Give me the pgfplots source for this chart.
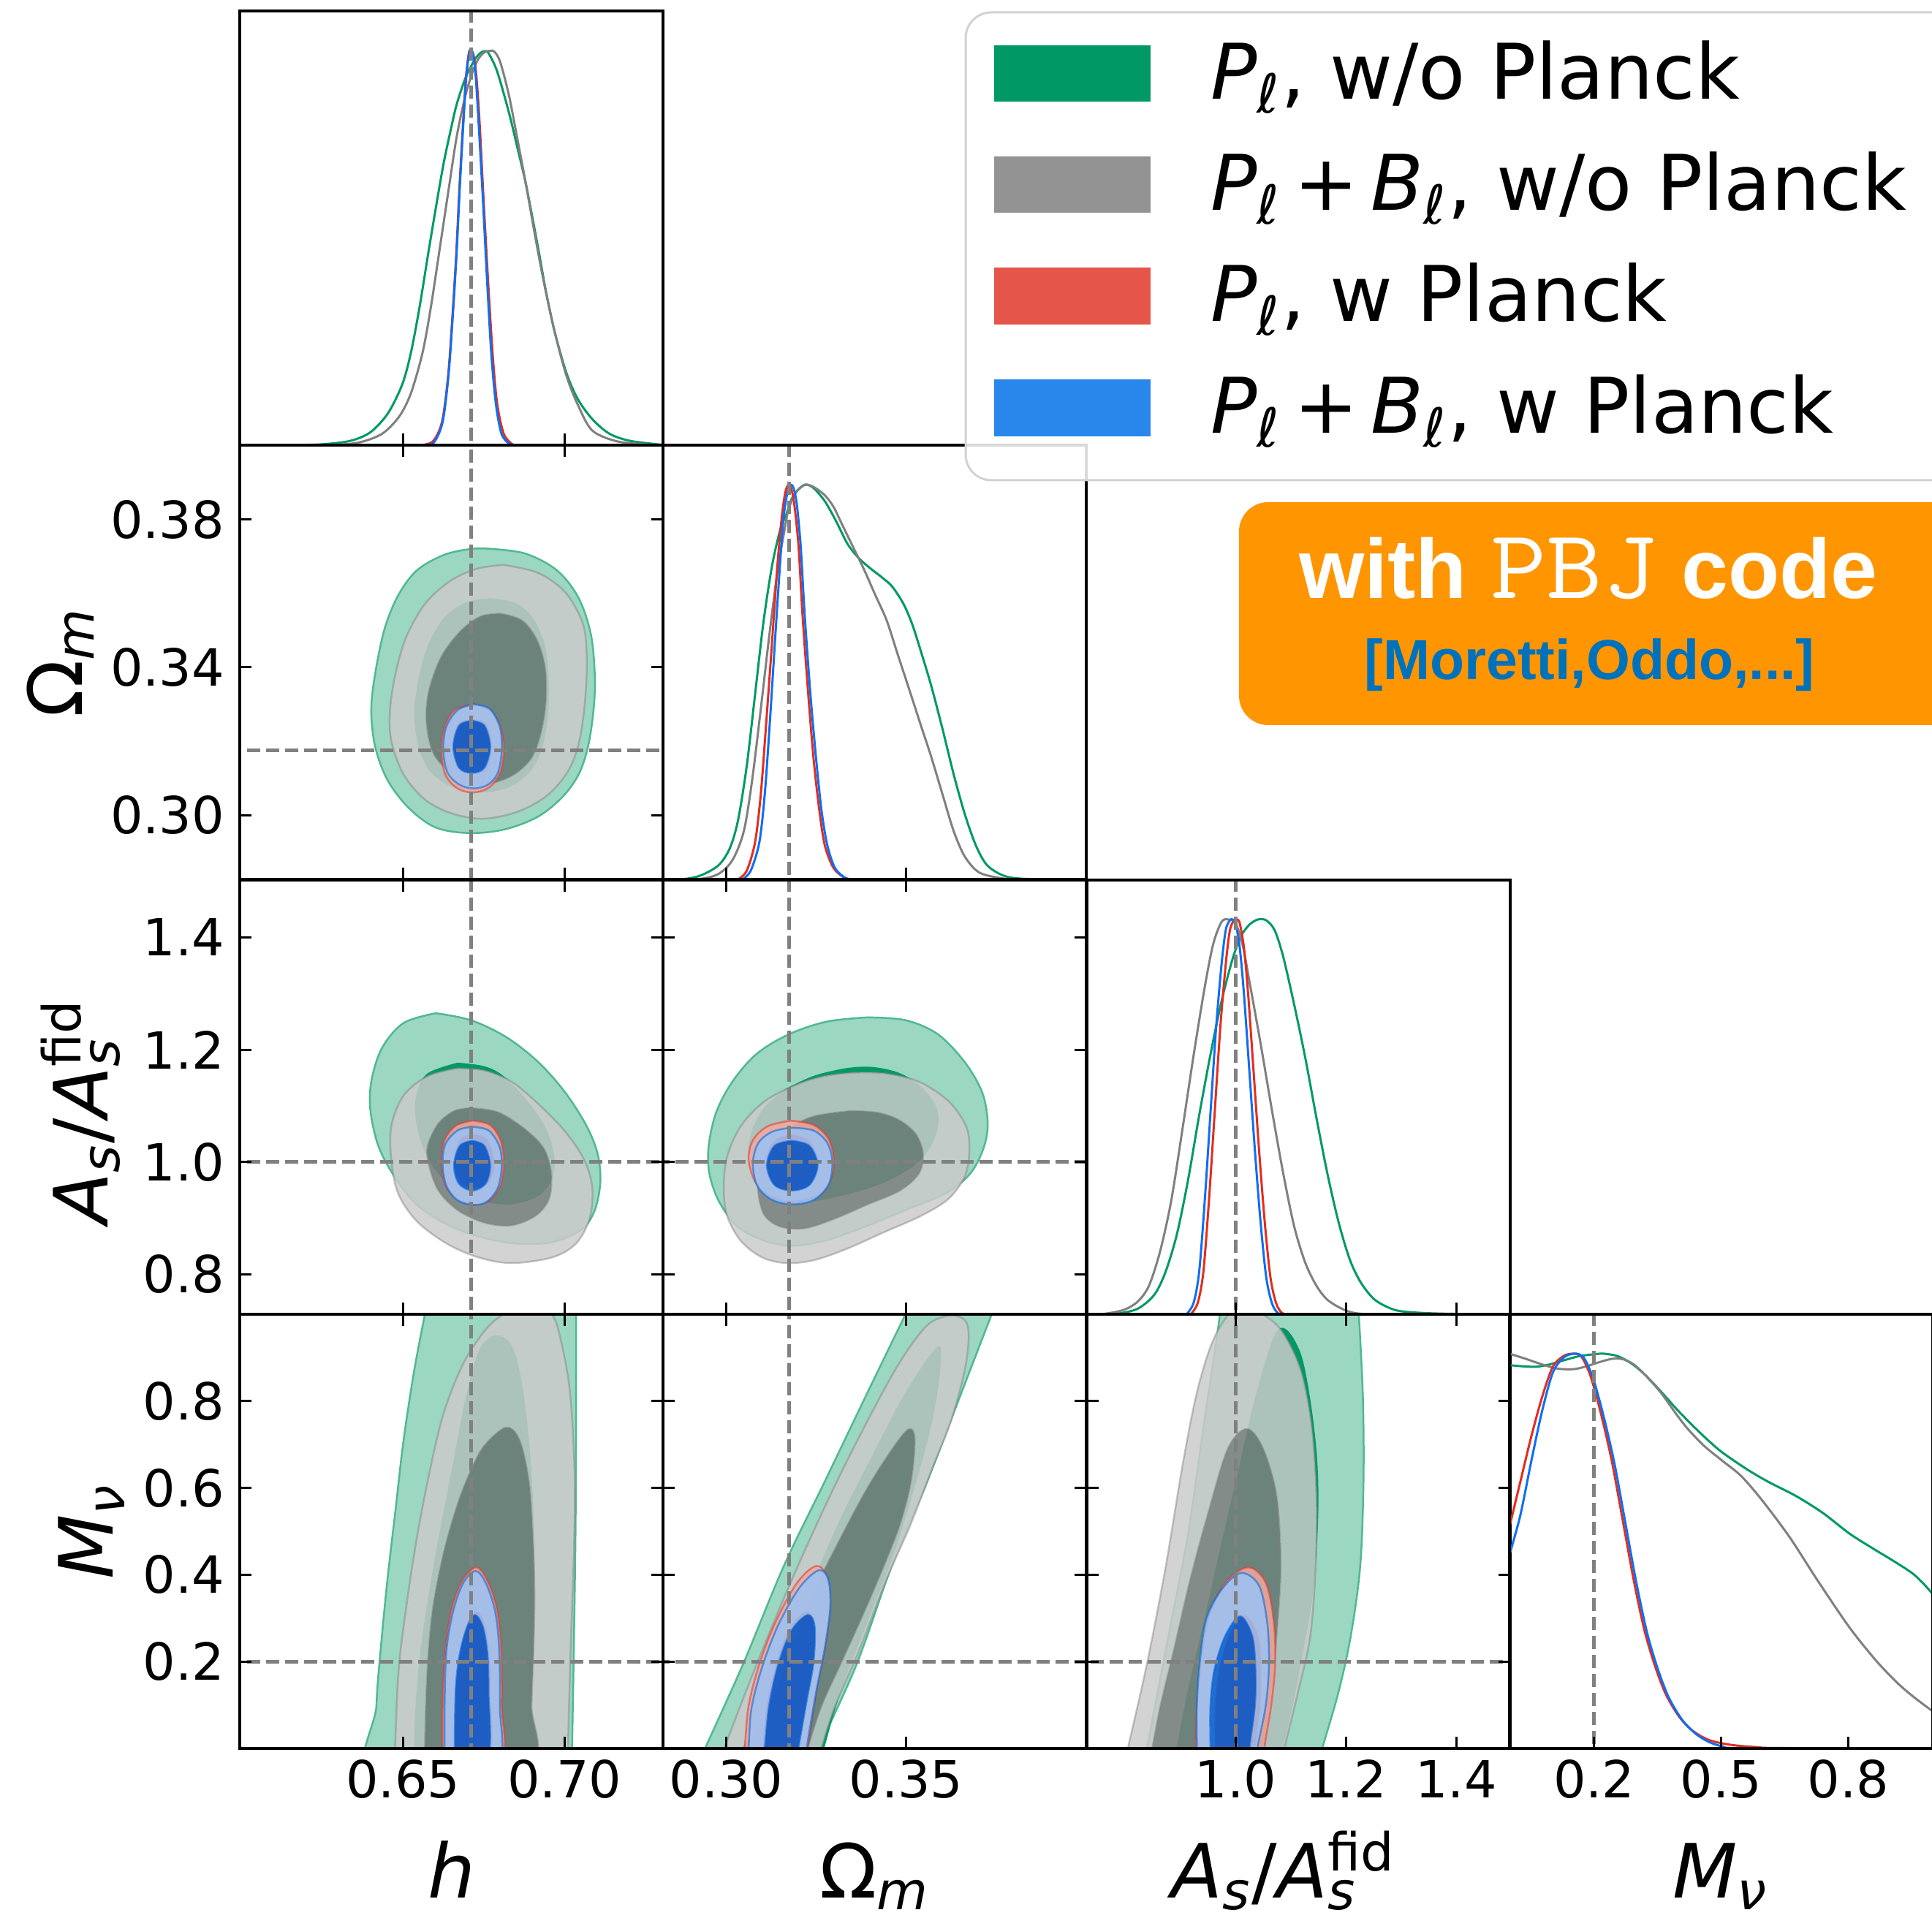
\documentclass[border=0pt]{standalone}
\usepackage{amsmath}
\usepackage{fontspec}
\setmainfont{DejaVu Sans}
\newfontfamily\lib{Liberation Sans}
\usepackage{pgfplots}
\pgfplotsset{compat=1.18}

\definecolor{gD}{RGB}{0,153,102}
\definecolor{gL}{RGB}{155,215,193}
\definecolor{gE}{RGB}{80,185,145}
\definecolor{kD}{RGB}{128,128,128}
\definecolor{kL}{RGB}{203,203,203}
\definecolor{rD}{RGB}{225,55,42}
\definecolor{rL}{RGB}{242,168,158}
\definecolor{bD}{RGB}{0,100,220}
\definecolor{bL}{RGB}{155,195,246}
\definecolor{rLine}{RGB}{228,45,30}
\definecolor{bLine}{RGB}{15,110,245}
\definecolor{fidc}{RGB}{128,128,128}
\definecolor{orng}{RGB}{255,149,0}
\definecolor{refblue}{RGB}{0,114,188}
\definecolor{legK}{RGB}{147,147,147}
\definecolor{legR}{RGB}{229,85,74}
\definecolor{legB}{RGB}{41,135,235}
\definecolor{legE}{RGB}{210,210,210}

\pgfplotsset{
  tri/.style={scale only axis, width=115.8pt, height=118.8pt, anchor=south west,
    axis on top, axis line style={line width=0.8pt}, unbounded coords=jump,
    every tick/.style={black, line width=0.6pt}, major tick length=3.2pt, tick align=inside,
    ticklabel style={font=\fontsize{14}{16}\selectfont},
    xticklabel style={inner sep=0pt, yshift=-3pt},
    yticklabel style={inner sep=0pt, xshift=-4pt},
    xticklabels={}, yticklabels={}},
  diag/.style={tri, ymin=0, ymax=1.1, ytick=\empty, xtick pos=left},
  g2/.style={smooth, tension=0.55, fill=gL, draw=gE, line width=0.5pt},
  g1/.style={smooth, tension=0.55, fill=gD, draw=none},
  k2/.style={smooth, tension=0.55, even odd rule, fill=kL, fill opacity=0.85, draw=kD, draw opacity=0.45, line width=0.5pt},
  k1/.style={smooth, tension=0.55, fill=kD, fill opacity=0.85, draw=none},
  r2/.style={smooth, tension=0.55, even odd rule, fill=rL, fill opacity=0.85, draw=rD, draw opacity=0.55, line width=0.5pt},
  r1/.style={smooth, tension=0.55, fill=rD, fill opacity=0.85, draw=none},
  b2/.style={smooth, tension=0.55, even odd rule, fill=bL, fill opacity=0.85, draw=bD, draw opacity=0.55, line width=0.5pt},
  b1/.style={smooth, tension=0.55, fill=bD, fill opacity=0.85, draw=none},
  fid/.style={fidc, line width=0.95pt, dash pattern=on 3.6pt off 1.6pt},
  lg/.style={smooth, tension=0.5, gD, line width=0.6pt},
  lk/.style={smooth, tension=0.5, kD, line width=0.6pt},
  lr/.style={smooth, tension=0.5, rLine, line width=0.6pt},
  lb/.style={smooth, tension=0.5, bLine, line width=0.6pt},
}

\begin{document}
\begin{tikzpicture}[x=1pt,y=1pt]
\useasboundingbox (0pt,0pt) rectangle (528.6pt,524.8pt);

%% (1,1) h diagonal
\begin{axis}[diag, at={(65.6pt,403.0pt)}, xmin=0.5995, xmax=0.7305, xtick={0.65,0.70}]
\addplot[lg] coordinates {(0.600,0) (0.615,0.0005) (0.6249,0.002) (0.6338,0.011) (0.6400,0.033) (0.6454,0.081) (0.6498,0.154) (0.6525,0.235) (0.6552,0.352) (0.6578,0.484) (0.6605,0.616) (0.6627,0.718) (0.6650,0.806) (0.6667,0.865) (0.6694,0.931) (0.6721,0.975) (0.6739,0.993) (0.6752,0.998) (0.6765,0.993) (0.6792,0.946) (0.6828,0.843) (0.6854,0.755) (0.6881,0.660) (0.6917,0.506) (0.6943,0.388) (0.6970,0.286) (0.7006,0.183) (0.7041,0.117) (0.7086,0.066) (0.7139,0.029) (0.7202,0.011) (0.7300,0.001)};
\addplot[lk] coordinates {(0.6000,0) (0.6276,0.001) (0.6365,0.007) (0.6436,0.029) (0.6489,0.073) (0.6525,0.132) (0.6561,0.235) (0.6587,0.352) (0.6614,0.498) (0.6641,0.645) (0.6667,0.784) (0.6694,0.887) (0.6716,0.946) (0.6734,0.979) (0.6752,0.995) (0.6770,0.999) (0.6783,0.997) (0.6801,0.971) (0.6828,0.887) (0.6854,0.777) (0.6881,0.660) (0.6908,0.535) (0.6935,0.418) (0.6970,0.286) (0.7006,0.176) (0.7041,0.103) (0.7086,0.037) (0.7166,0.009) (0.7273,0.001) (0.7305,0)};
\addplot[lr] coordinates {(0.6552,0) (0.6592,0.009) (0.6621,0.059) (0.6640,0.176) (0.6653,0.323) (0.6665,0.484) (0.6675,0.652) (0.6686,0.814) (0.6695,0.931) (0.6704,0.993) (0.6710,1.0) (0.6718,0.990) (0.6727,0.938) (0.6737,0.821) (0.6750,0.616) (0.6764,0.410) (0.6778,0.227) (0.6792,0.103) (0.6812,0.029) (0.6837,0.003) (0.6854,0)};
\addplot[lb] coordinates {(0.6561,0) (0.6596,0.007) (0.6623,0.059) (0.6641,0.176) (0.6654,0.323) (0.6666,0.484) (0.6676,0.652) (0.6687,0.814) (0.6696,0.931) (0.6705,0.993) (0.6710,1.0) (0.6717,0.990) (0.6725,0.938) (0.6734,0.821) (0.6748,0.616) (0.6761,0.410) (0.6774,0.227) (0.6788,0.103) (0.6805,0.029) (0.6828,0.004) (0.6846,0)};
\addplot[fid] coordinates {(0.6711,-1) (0.6711,2)};
\end{axis}

%% (2,1) h - Om
\begin{axis}[tri, at={(65.6pt,284.2pt)}, xmin=0.5995, xmax=0.7305, ymin=0.2826, ymax=0.4001,
  xtick={0.65,0.70}, ytick={0.30,0.34,0.38}, yticklabels={0.30,0.34,0.38}]
\addplot[g2] coordinates {(0.6760,0.3721) (0.6877,0.3708) (0.6977,0.3662) (0.7044,0.3587) (0.7082,0.3488) (0.7094,0.3375) (0.7090,0.3284) (0.7073,0.3185) (0.7044,0.3110) (0.6994,0.3049) (0.6919,0.2996) (0.6819,0.2962) (0.6710,0.2951) (0.6602,0.2966) (0.6518,0.3019) (0.6452,0.3095) (0.6414,0.3185) (0.6402,0.3284) (0.6414,0.3382) (0.6443,0.3503) (0.6485,0.3594) (0.6543,0.3662) (0.6627,0.3704) (0.6710,0.3720) (0.6760,0.3721)} -- cycle;
\addplot[g1] coordinates {(0.6765,0.3587) (0.6844,0.3575) (0.6902,0.3534) (0.6940,0.3458) (0.6952,0.3360) (0.6948,0.3261) (0.6927,0.3170) (0.6886,0.3110) (0.6819,0.3072) (0.6735,0.3061) (0.6652,0.3076) (0.6585,0.3117) (0.6548,0.3185) (0.6535,0.3276) (0.6548,0.3367) (0.6577,0.3458) (0.6627,0.3534) (0.6694,0.3575) (0.6765,0.3587)} -- cycle;
\addplot[k2] coordinates {(0.6811,0.3677) (0.6919,0.3655) (0.7003,0.3602) (0.7057,0.3518) (0.7069,0.3428) (0.7065,0.3322) (0.7048,0.3208) (0.7015,0.3125) (0.6952,0.3057) (0.6861,0.3011) (0.6752,0.2990) (0.6652,0.3004) (0.6568,0.3042) (0.6502,0.3110) (0.6464,0.3201) (0.6460,0.3284) (0.6477,0.3382) (0.6510,0.3481) (0.6568,0.3571) (0.6644,0.3632) (0.6727,0.3666) (0.6811,0.3677) (nan,nan)
 (0.6802,0.3545) (0.6869,0.3526) (0.6915,0.3473) (0.6940,0.3397) (0.6942,0.3307) (0.6927,0.3223) (0.6898,0.3155) (0.6844,0.3110) (0.6777,0.3087) (0.6710,0.3087) (0.6644,0.3117) (0.6593,0.3170) (0.6573,0.3254) (0.6581,0.3337) (0.6619,0.3428) (0.6677,0.3496) (0.6740,0.3537) (0.6802,0.3545)};
\addplot[k1] coordinates {(0.6802,0.3545) (0.6869,0.3526) (0.6915,0.3473) (0.6940,0.3397) (0.6942,0.3307) (0.6927,0.3223) (0.6898,0.3155) (0.6844,0.3110) (0.6777,0.3087) (0.6710,0.3087) (0.6644,0.3117) (0.6593,0.3170) (0.6573,0.3254) (0.6581,0.3337) (0.6619,0.3428) (0.6677,0.3496) (0.6740,0.3537) (0.6802,0.3545)} -- cycle;
\addplot[r2] coordinates {(0.6715,0.3299) (0.6769,0.3284) (0.6802,0.3238) (0.6812,0.3178) (0.6802,0.3117) (0.6769,0.3076) (0.6719,0.3061) (0.6669,0.3072) (0.6631,0.3110) (0.6619,0.3178) (0.6629,0.3238) (0.6660,0.3284) (0.6715,0.3299) (nan,nan)
 (0.6715,0.3257) (0.6756,0.3246) (0.6773,0.3185) (0.6756,0.3125) (0.6715,0.3114) (0.6673,0.3125) (0.6656,0.3185) (0.6673,0.3246) (0.6715,0.3257)};
\addplot[r1] coordinates {(0.6715,0.3257) (0.6756,0.3246) (0.6773,0.3185) (0.6756,0.3125) (0.6715,0.3114) (0.6673,0.3125) (0.6656,0.3185) (0.6673,0.3246) (0.6715,0.3257)} -- cycle;
\addplot[b2] coordinates {(0.6719,0.3300) (0.6769,0.3287) (0.6800,0.3238) (0.6806,0.3178) (0.6795,0.3117) (0.6765,0.3083) (0.6719,0.3072) (0.6673,0.3083) (0.6637,0.3117) (0.6625,0.3178) (0.6634,0.3238) (0.6669,0.3284) (0.6719,0.3300) (nan,nan)
 (0.6713,0.3255) (0.6752,0.3242) (0.6770,0.3185) (0.6752,0.3128) (0.6713,0.3114) (0.6674,0.3128) (0.6656,0.3185) (0.6674,0.3242) (0.6713,0.3255)};
\addplot[b1] coordinates {(0.6713,0.3255) (0.6752,0.3242) (0.6770,0.3185) (0.6752,0.3128) (0.6713,0.3114) (0.6674,0.3128) (0.6656,0.3185) (0.6674,0.3242) (0.6713,0.3255)} -- cycle;
\addplot[fid] coordinates {(0.6711,0.2) (0.6711,0.5)};
\addplot[fid] coordinates {(0.59,0.3175) (0.74,0.3175)};
\end{axis}

%% (2,2) Om diagonal
\begin{axis}[diag, at={(181.4pt,284.2pt)}, xmin=0.2824, xmax=0.4001, xtick={0.30,0.35}]
\addplot[lg] coordinates {(0.2824,0) (0.2886,0.001) (0.2932,0.011) (0.2979,0.036) (0.3010,0.079) (0.3033,0.151) (0.3057,0.288) (0.3080,0.468) (0.3103,0.649) (0.3127,0.793) (0.3150,0.886) (0.3166,0.922) (0.3181,0.962) (0.3197,0.984) (0.3220,1.000) (0.3243,0.991) (0.3274,0.958) (0.3305,0.908) (0.3337,0.850) (0.3368,0.814) (0.3399,0.789) (0.3430,0.767) (0.3461,0.742) (0.3492,0.699) (0.3516,0.649) (0.3539,0.584) (0.3570,0.490) (0.3601,0.382) (0.3632,0.267) (0.3663,0.166) (0.3694,0.086) (0.3725,0.036) (0.3772,0.009) (0.3834,0.001) (0.4001,0)};
\addplot[lk] coordinates {(0.2824,0) (0.2925,0.001) (0.2979,0.014) (0.3018,0.050) (0.3049,0.123) (0.3072,0.252) (0.3096,0.432) (0.3119,0.613) (0.3142,0.778) (0.3162,0.886) (0.3173,0.937) (0.3189,0.973) (0.3204,0.991) (0.3220,1.0) (0.3243,0.994) (0.3274,0.973) (0.3298,0.944) (0.3321,0.901) (0.3352,0.843) (0.3383,0.785) (0.3414,0.721) (0.3446,0.656) (0.3477,0.569) (0.3508,0.483) (0.3539,0.396) (0.3570,0.310) (0.3601,0.216) (0.3632,0.123) (0.3663,0.058) (0.3702,0.018) (0.3757,0.004) (0.3803,0.001) (0.4001,0)};
\addplot[lr] coordinates {(0.3033,0) (0.3057,0.022) (0.3080,0.094) (0.3096,0.216) (0.3111,0.396) (0.3127,0.598) (0.3142,0.793) (0.3154,0.915) (0.3164,0.980) (0.3172,0.998) (0.3180,0.991) (0.3189,0.951) (0.3201,0.843) (0.3212,0.670) (0.3228,0.468) (0.3243,0.303) (0.3259,0.173) (0.3274,0.086) (0.3298,0.029) (0.3329,0.004) (0.3352,0)};
\addplot[lb] coordinates {(0.3045,0) (0.3068,0.022) (0.3092,0.094) (0.3107,0.216) (0.3121,0.396) (0.3135,0.598) (0.3149,0.793) (0.3159,0.915) (0.3170,0.980) (0.3178,1.0) (0.3187,0.991) (0.3196,0.951) (0.3207,0.843) (0.3218,0.670) (0.3234,0.468) (0.3250,0.303) (0.3265,0.173) (0.3281,0.086) (0.3302,0.029) (0.3330,0.004) (0.3352,0)};
\addplot[fid] coordinates {(0.3175,-1) (0.3175,2)};
\end{axis}

%% (3,1) h - As
\begin{axis}[tri, at={(65.6pt,165.2pt)}, xmin=0.5995, xmax=0.7305, ymin=0.729, ymax=1.502,
  xtick={0.65,0.70}, ytick={0.8,1.0,1.2,1.4}, yticklabels={0.8,1.0,1.2,1.4}]
\addplot[g2] coordinates {(0.6602,1.2649) (0.6710,1.2525) (0.6819,1.2227) (0.6919,1.1779) (0.7003,1.1233) (0.7069,1.0636) (0.7103,1.0139) (0.7111,0.9642) (0.7094,0.9145) (0.7053,0.8797) (0.6961,0.8574) (0.6852,0.8549) (0.6752,0.8648) (0.6652,0.8847) (0.6552,0.9195) (0.6485,0.9642) (0.6427,1.0239) (0.6400,1.0885) (0.6402,1.1431) (0.6435,1.2028) (0.6502,1.2475) (0.6602,1.2649)} -- cycle;
\addplot[g1] coordinates {(0.6669,1.1769) (0.6752,1.1705) (0.6811,1.1531) (0.6886,1.1083) (0.6944,1.0586) (0.6969,1.0089) (0.6961,0.9692) (0.6919,0.9394) (0.6836,0.9245) (0.6752,0.9294) (0.6669,0.9493) (0.6602,0.9841) (0.6560,1.0288) (0.6539,1.0785) (0.6543,1.1233) (0.6577,1.1581) (0.6669,1.1769)} -- cycle;
\addplot[k2] coordinates {(0.6669,1.1670) (0.6752,1.1630) (0.6836,1.1431) (0.6919,1.1034) (0.7003,1.0537) (0.7061,1.0040) (0.7086,0.9543) (0.7078,0.8996) (0.7036,0.8549) (0.6961,0.8300) (0.6836,0.8201) (0.6735,0.8300) (0.6635,0.8549) (0.6543,0.8946) (0.6485,0.9443) (0.6464,1.0040) (0.6464,1.0636) (0.6502,1.1183) (0.6577,1.1531) (0.6669,1.1670) (nan,nan)
 (0.6710,1.0959) (0.6794,1.0885) (0.6877,1.0586) (0.6936,1.0239) (0.6959,0.9791) (0.6952,0.9344) (0.6911,0.9046) (0.6836,0.8872) (0.6752,0.8921) (0.6669,0.9145) (0.6610,0.9493) (0.6581,0.9940) (0.6577,1.0288) (0.6610,1.0686) (0.6660,1.0910) (0.6710,1.0959)};
\addplot[k1] coordinates {(0.6710,1.0959) (0.6794,1.0885) (0.6877,1.0586) (0.6936,1.0239) (0.6959,0.9791) (0.6952,0.9344) (0.6911,0.9046) (0.6836,0.8872) (0.6752,0.8921) (0.6669,0.9145) (0.6610,0.9493) (0.6581,0.9940) (0.6577,1.0288) (0.6610,1.0686) (0.6660,1.0910) (0.6710,1.0959)} -- cycle;
\addplot[r2] coordinates {(0.6715,1.0736) (0.6769,1.0661) (0.6802,1.0388) (0.6812,0.9990) (0.6802,0.9592) (0.6769,0.9319) (0.6719,0.9245) (0.6669,0.9344) (0.6631,0.9592) (0.6619,0.9990) (0.6629,1.0388) (0.6664,1.0646) (0.6715,1.0736) (nan,nan)
 (0.6719,1.0487) (0.6760,1.0388) (0.6781,0.9990) (0.6765,0.9642) (0.6719,0.9543) (0.6677,0.9642) (0.6660,0.9990) (0.6677,1.0388) (0.6719,1.0487)};
\addplot[r1] coordinates {(0.6719,1.0487) (0.6760,1.0388) (0.6781,0.9990) (0.6765,0.9642) (0.6719,0.9543) (0.6677,0.9642) (0.6660,0.9990) (0.6677,1.0388) (0.6719,1.0487)} -- cycle;
\addplot[b2] coordinates {(0.6715,1.0626) (0.6765,1.0562) (0.6798,1.0288) (0.6806,0.9940) (0.6794,0.9543) (0.6760,0.9294) (0.6719,0.9235) (0.6669,0.9319) (0.6635,0.9568) (0.6623,0.9940) (0.6631,1.0313) (0.6669,1.0562) (0.6715,1.0626) (nan,nan)
 (0.6715,1.0378) (0.6752,1.0288) (0.6770,0.9940) (0.6756,0.9617) (0.6715,0.9493) (0.6673,0.9617) (0.6658,0.9940) (0.6676,1.0288) (0.6715,1.0378)};
\addplot[b1] coordinates {(0.6715,1.0378) (0.6752,1.0288) (0.6770,0.9940) (0.6756,0.9617) (0.6715,0.9493) (0.6673,0.9617) (0.6658,0.9940) (0.6676,1.0288) (0.6715,1.0378)} -- cycle;
\addplot[fid] coordinates {(0.6711,0.5) (0.6711,1.7)};
\addplot[fid] coordinates {(0.59,1.0) (0.74,1.0)};
\end{axis}

%% (3,2) Om - As
\begin{axis}[tri, at={(181.4pt,165.2pt)}, xmin=0.2824, xmax=0.4001, ymin=0.729, ymax=1.502,
  xtick={0.30,0.35}, ytick={0.8,1.0,1.2,1.4}]
\addplot[g2] coordinates {(0.3393,1.2575) (0.3498,1.2525) (0.3588,1.2276) (0.3663,1.1779) (0.3712,1.1233) (0.3727,1.0686) (0.3715,1.0239) (0.3678,0.9791) (0.3610,0.9443) (0.3498,0.9145) (0.3385,0.8847) (0.3273,0.8598) (0.3182,0.8509) (0.3107,0.8598) (0.3032,0.8847) (0.2980,0.9294) (0.2953,0.9791) (0.2951,1.0288) (0.2972,1.0885) (0.3017,1.1431) (0.3085,1.1928) (0.3175,1.2276) (0.3280,1.2500) (0.3393,1.2575)} -- cycle;
\addplot[g1] coordinates {(0.3167,1.1307) (0.3242,1.1531) (0.3333,1.1670) (0.3408,1.1690) (0.3483,1.1581) (0.3543,1.1332) (0.3584,1.0984) (0.3589,1.0636) (0.3565,1.0239) (0.3513,0.9891) (0.3423,0.9592) (0.3318,0.9394) (0.3227,0.9294) (0.3145,0.9344) (0.3085,0.9592) (0.3062,1.0040) (0.3070,1.0537) (0.3107,1.0984) (0.3167,1.1307)} -- cycle;
\addplot[k2] coordinates {(0.3348,1.1590) (0.3438,1.1581) (0.3535,1.1431) (0.3618,1.1083) (0.3667,1.0636) (0.3676,1.0189) (0.3663,0.9742) (0.3618,0.9344) (0.3543,0.9046) (0.3438,0.8748) (0.3333,0.8449) (0.3242,0.8250) (0.3167,0.8201) (0.3100,0.8300) (0.3040,0.8598) (0.3002,0.9046) (0.2993,0.9543) (0.3002,1.0089) (0.3040,1.0636) (0.3107,1.1083) (0.3197,1.1382) (0.3273,1.1531) (0.3348,1.1590) (nan,nan)
 (0.3348,1.0910) (0.3423,1.0875) (0.3483,1.0736) (0.3528,1.0487) (0.3547,1.0139) (0.3535,0.9791) (0.3483,0.9493) (0.3393,0.9245) (0.3303,0.8996) (0.3220,0.8822) (0.3152,0.8847) (0.3107,0.9046) (0.3089,0.9443) (0.3092,0.9841) (0.3122,1.0239) (0.3175,1.0586) (0.3242,1.0810) (0.3348,1.0910)};
\addplot[k1] coordinates {(0.3348,1.0910) (0.3423,1.0875) (0.3483,1.0736) (0.3528,1.0487) (0.3547,1.0139) (0.3535,0.9791) (0.3483,0.9493) (0.3393,0.9245) (0.3303,0.8996) (0.3220,0.8822) (0.3152,0.8847) (0.3107,0.9046) (0.3089,0.9443) (0.3092,0.9841) (0.3122,1.0239) (0.3175,1.0586) (0.3242,1.0810) (0.3348,1.0910)} -- cycle;
\addplot[r2] coordinates {(0.3179,1.0736) (0.3242,1.0661) (0.3284,1.0413) (0.3299,1.0040) (0.3291,0.9692) (0.3258,0.9418) (0.3182,0.9294) (0.3122,0.9394) (0.3081,0.9642) (0.3062,1.0040) (0.3074,1.0388) (0.3115,1.0636) (0.3179,1.0736) (nan,nan)
 (0.3182,1.0487) (0.3231,1.0363) (0.3254,0.9990) (0.3235,0.9617) (0.3182,0.9493) (0.3130,0.9617) (0.3111,0.9990) (0.3134,1.0363) (0.3182,1.0487)};
\addplot[r1] coordinates {(0.3182,1.0487) (0.3231,1.0363) (0.3254,0.9990) (0.3235,0.9617) (0.3182,0.9493) (0.3130,0.9617) (0.3111,0.9990) (0.3134,1.0363) (0.3182,1.0487)} -- cycle;
\addplot[b2] coordinates {(0.3179,1.0611) (0.3242,1.0562) (0.3281,1.0338) (0.3295,0.9990) (0.3284,0.9592) (0.3242,0.9319) (0.3179,0.9245) (0.3122,0.9344) (0.3085,0.9592) (0.3074,0.9990) (0.3089,1.0338) (0.3127,1.0537) (0.3179,1.0611) (nan,nan)
 (0.3182,1.0378) (0.3231,1.0288) (0.3254,0.9940) (0.3231,0.9592) (0.3182,0.9493) (0.3134,0.9592) (0.3113,0.9940) (0.3134,1.0288) (0.3182,1.0378)};
\addplot[b1] coordinates {(0.3182,1.0378) (0.3231,1.0288) (0.3254,0.9940) (0.3231,0.9592) (0.3182,0.9493) (0.3134,0.9592) (0.3113,0.9940) (0.3134,1.0288) (0.3182,1.0378)} -- cycle;
\addplot[fid] coordinates {(0.3175,0.5) (0.3175,1.7)};
\addplot[fid] coordinates {(0.27,1.0) (0.41,1.0)};
\end{axis}

%% (3,3) As diagonal
\begin{axis}[diag, at={(297.4pt,165.2pt)}, xmin=0.7308, xmax=1.498, xtick={1.0,1.2,1.4}]
\addplot[lg] coordinates {(0.7308,0) (0.7823,0.001) (0.8228,0.014) (0.8532,0.050) (0.8734,0.108) (0.8937,0.202) (0.9139,0.339) (0.9342,0.504) (0.9544,0.656) (0.9747,0.793) (0.9949,0.901) (1.0101,0.958) (1.0253,0.987) (1.0405,1.0) (1.0557,0.998) (1.0709,0.973) (1.0861,0.908) (1.1063,0.785) (1.1266,0.649) (1.1468,0.497) (1.1671,0.353) (1.1873,0.231) (1.2076,0.137) (1.2278,0.079) (1.2531,0.036) (1.2885,0.011) (1.3290,0.004) (1.3898,0.001) (1.498,0)};
\addplot[lk] coordinates {(0.7308,0) (0.7621,0.001) (0.7975,0.011) (0.8228,0.032) (0.8431,0.072) (0.8633,0.159) (0.8836,0.288) (0.9038,0.468) (0.9241,0.656) (0.9443,0.829) (0.9595,0.937) (0.9747,0.994) (0.9873,1.0) (1.0,0.991) (1.0127,0.937) (1.0253,0.843) (1.0456,0.685) (1.0658,0.519) (1.0861,0.360) (1.1063,0.223) (1.1266,0.130) (1.1468,0.072) (1.1671,0.036) (1.1974,0.011) (1.2278,0.001) (1.30,0)};
\addplot[lr] coordinates {(0.9190,0) (0.9317,0.029) (0.9418,0.108) (0.9519,0.288) (0.9620,0.504) (0.9722,0.721) (0.9823,0.886) (0.9899,0.973) (0.9975,0.998) (1.0025,1.0) (1.0076,0.991) (1.0152,0.930) (1.0228,0.814) (1.0329,0.613) (1.0430,0.411) (1.0532,0.231) (1.0633,0.094) (1.0734,0.029) (1.0835,0.004) (1.0937,0)};
\addplot[lb] coordinates {(0.9114,0) (0.9241,0.029) (0.9342,0.108) (0.9443,0.288) (0.9544,0.504) (0.9646,0.721) (0.9747,0.886) (0.9823,0.973) (0.9899,0.998) (0.9949,1.0) (1.0,0.991) (1.0076,0.930) (1.0152,0.814) (1.0253,0.613) (1.0354,0.411) (1.0456,0.231) (1.0557,0.094) (1.0658,0.029) (1.0759,0.004) (1.0861,0)};
\addplot[fid] coordinates {(1.0,-1) (1.0,2)};
\end{axis}

%% (4,1) h - Mnu
\begin{axis}[tri, at={(65.6pt,46.4pt)}, xmin=0.5995, xmax=0.7305, ymin=0, ymax=1,
  xtick={0.65,0.70}, xticklabels={0.65,0.70}, ytick={0.2,0.4,0.6,0.8}, yticklabels={0.2,0.4,0.6,0.8}]
\addplot[g2] coordinates {(0.6568,0.9996) (0.6535,0.8708) (0.6502,0.7099) (0.6477,0.5489) (0.6452,0.3880) (0.6431,0.2270) (0.6418,0.0983) (0.6414,-0.0949) (0.7023,-0.0949) (0.7023,-0.0305) (0.7029,0.2270) (0.7034,0.4846) (0.7036,0.7421) (0.7036,0.9996) (0.7036,1.0962) (0.6577,1.0962) (0.6568,0.9996)} -- cycle;
\addplot[g1] coordinates {(0.6535,-0.0305) (0.6539,0.0983) (0.6560,0.2592) (0.6602,0.4524) (0.6652,0.6455) (0.6694,0.8065) (0.6735,0.9159) (0.6785,0.9513) (0.6836,0.9288) (0.6869,0.8386) (0.6894,0.6777) (0.6907,0.4846) (0.6907,0.2914) (0.6898,0.0983) (0.6894,-0.0305) (0.6535,-0.0305)} -- cycle;
\addplot[k2] coordinates {(0.6472,-0.0949) (0.6485,0.1627) (0.6510,0.3236) (0.6543,0.4846) (0.6585,0.6455) (0.6627,0.7743) (0.6685,0.8837) (0.6752,0.9610) (0.6811,0.9996) (0.6886,1.0189) (0.6961,0.9996) (0.6994,0.9223) (0.7019,0.8065) (0.7032,0.6133) (0.7028,0.4202) (0.7019,0.2270) (0.7011,0.0017) (0.7009,-0.0949) (0.6472,-0.0949) (nan,nan)
 (0.6568,-0.0305) (0.6570,0.0661) (0.6577,0.1948) (0.6593,0.3236) (0.6627,0.4524) (0.6669,0.5618) (0.6710,0.6391) (0.6752,0.6970) (0.6819,0.7389) (0.6861,0.7099) (0.6890,0.6133) (0.6902,0.4846) (0.6907,0.3558) (0.6904,0.2270) (0.6898,0.0983) (0.6896,-0.0305) (0.6568,-0.0305)};
\addplot[k1] coordinates {(0.6568,-0.0305) (0.6570,0.0661) (0.6577,0.1948) (0.6593,0.3236) (0.6627,0.4524) (0.6669,0.5618) (0.6710,0.6391) (0.6752,0.6970) (0.6819,0.7389) (0.6861,0.7099) (0.6890,0.6133) (0.6902,0.4846) (0.6907,0.3558) (0.6904,0.2270) (0.6898,0.0983) (0.6896,-0.0305) (0.6568,-0.0305)} -- cycle;
\addplot[r2] coordinates {(0.6623,-0.0305) (0.6623,0.0983) (0.6631,0.2270) (0.6652,0.3236) (0.6685,0.3880) (0.6727,0.4170) (0.6760,0.3880) (0.6790,0.3236) (0.6804,0.2270) (0.6806,0.0983) (0.6802,-0.0305) (0.6623,-0.0305) (nan,nan)
 (0.6662,-0.0200) (0.6665,0.1305) (0.6677,0.2142) (0.6700,0.2850) (0.6727,0.3140) (0.6752,0.2850) (0.6766,0.2142) (0.6769,0.1305) (0.6766,-0.0200) (0.6662,-0.0200)};
\addplot[r1] coordinates {(0.6662,-0.0200) (0.6665,0.1305) (0.6677,0.2142) (0.6700,0.2850) (0.6727,0.3140) (0.6752,0.2850) (0.6766,0.2142) (0.6769,0.1305) (0.6766,-0.0200) (0.6662,-0.0200)} -- cycle;
\addplot[b2] coordinates {(0.6629,-0.0305) (0.6629,0.0983) (0.6635,0.2270) (0.6656,0.3172) (0.6687,0.3816) (0.6725,0.4086) (0.6756,0.3816) (0.6785,0.3172) (0.6798,0.2270) (0.6800,0.0983) (0.6795,-0.0305) (0.6629,-0.0305) (nan,nan)
 (0.6660,-0.0200) (0.6663,0.1305) (0.6675,0.2142) (0.6698,0.2785) (0.6723,0.3075) (0.6748,0.2785) (0.6762,0.2142) (0.6765,0.1305) (0.6762,-0.0200) (0.6660,-0.0200)};
\addplot[b1] coordinates {(0.6660,-0.0200) (0.6663,0.1305) (0.6675,0.2142) (0.6698,0.2785) (0.6723,0.3075) (0.6748,0.2785) (0.6762,0.2142) (0.6765,0.1305) (0.6762,-0.0200) (0.6660,-0.0200)} -- cycle;
\addplot[fid] coordinates {(0.6711,-0.5) (0.6711,1.5)};
\addplot[fid] coordinates {(0.59,0.2) (0.74,0.2)};
\end{axis}

%% (4,2) Om - Mnu
\begin{axis}[tri, at={(181.4pt,46.4pt)}, xmin=0.2824, xmax=0.4001, ymin=0, ymax=1,
  xtick={0.30,0.35}, xticklabels={0.30,0.35}, ytick={0.2,0.4,0.6,0.8}]
\addplot[g2] coordinates {(0.2920,-0.0434) (0.2942,0.0017) (0.3047,0.1948) (0.3160,0.4202) (0.3273,0.6133) (0.3385,0.8065) (0.3498,0.9996) (0.3520,1.0383) (0.3757,1.0383) (0.3738,0.9996) (0.3648,0.8065) (0.3558,0.6133) (0.3460,0.4202) (0.3363,0.1948) (0.3258,0.0017) (0.3239,-0.0434) (0.2920,-0.0434)} -- cycle;
\addplot[g1] coordinates {(0.3040,-0.0434) (0.3062,0.0017) (0.3122,0.1305) (0.3212,0.3236) (0.3310,0.5167) (0.3408,0.6777) (0.3498,0.8193) (0.3588,0.9255) (0.3595,0.8708) (0.3573,0.7550) (0.3528,0.6133) (0.3468,0.4524) (0.3393,0.2914) (0.3318,0.1305) (0.3273,0.0017) (0.3258,-0.0434) (0.3040,-0.0434)} -- cycle;
\addplot[k2] coordinates {(0.2972,-0.0600) (0.2995,0.0017) (0.3085,0.1948) (0.3182,0.3880) (0.3288,0.5811) (0.3393,0.7550) (0.3483,0.8901) (0.3558,0.9738) (0.3618,0.9963) (0.3663,0.9867) (0.3674,0.9481) (0.3663,0.8708) (0.3625,0.7550) (0.3573,0.6455) (0.3513,0.5167) (0.3445,0.3880) (0.3370,0.2270) (0.3303,0.0983) (0.3265,0.0017) (0.3250,-0.0600) (0.2972,-0.0600) (nan,nan)
 (0.3030,-0.0434) (0.3047,0.0017) (0.3107,0.0661) (0.3167,0.1948) (0.3242,0.3558) (0.3310,0.4717) (0.3393,0.6004) (0.3468,0.6970) (0.3509,0.7357) (0.3524,0.7099) (0.3513,0.6133) (0.3483,0.5167) (0.3438,0.4202) (0.3378,0.3043) (0.3318,0.1948) (0.3265,0.0983) (0.3227,0.0017) (0.3215,-0.0434) (0.3030,-0.0434)};
\addplot[k1] coordinates {(0.3030,-0.0434) (0.3047,0.0017) (0.3107,0.0661) (0.3167,0.1948) (0.3242,0.3558) (0.3310,0.4717) (0.3393,0.6004) (0.3468,0.6970) (0.3509,0.7357) (0.3524,0.7099) (0.3513,0.6133) (0.3483,0.5167) (0.3438,0.4202) (0.3378,0.3043) (0.3318,0.1948) (0.3265,0.0983) (0.3227,0.0017) (0.3215,-0.0434) (0.3030,-0.0434)} -- cycle;
\addplot[r2] coordinates {(0.3040,-0.0600) (0.3051,0.0017) (0.3062,0.0983) (0.3092,0.1948) (0.3137,0.2914) (0.3197,0.3816) (0.3250,0.4202) (0.3280,0.3944) (0.3288,0.3236) (0.3273,0.2270) (0.3250,0.1305) (0.3227,0.0017) (0.3220,-0.0600) (0.3040,-0.0600) (nan,nan)
 (0.3095,-0.0434) (0.3102,0.0017) (0.3114,0.0983) (0.3140,0.1948) (0.3177,0.2750) (0.3222,0.3140) (0.3245,0.2820) (0.3241,0.1948) (0.3222,0.1112) (0.3199,0.0017) (0.3193,-0.0434) (0.3095,-0.0434)};
\addplot[r1] coordinates {(0.3095,-0.0434) (0.3102,0.0017) (0.3114,0.0983) (0.3140,0.1948) (0.3177,0.2750) (0.3222,0.3140) (0.3245,0.2820) (0.3241,0.1948) (0.3222,0.1112) (0.3199,0.0017) (0.3193,-0.0434) (0.3095,-0.0434)} -- cycle;
\addplot[b2] coordinates {(0.3055,-0.0600) (0.3062,0.0017) (0.3070,0.0918) (0.3100,0.1884) (0.3145,0.2850) (0.3205,0.3719) (0.3258,0.4105) (0.3284,0.3880) (0.3289,0.3236) (0.3273,0.2270) (0.3250,0.1305) (0.3224,0.0017) (0.3218,-0.0600) (0.3055,-0.0600) (nan,nan)
 (0.3100,-0.0434) (0.3107,0.0017) (0.3119,0.0983) (0.3145,0.1948) (0.3182,0.2721) (0.3227,0.3075) (0.3246,0.2785) (0.3242,0.1948) (0.3224,0.1112) (0.3201,0.0017) (0.3195,-0.0434) (0.3100,-0.0434)};
\addplot[b1] coordinates {(0.3100,-0.0434) (0.3107,0.0017) (0.3119,0.0983) (0.3145,0.1948) (0.3182,0.2721) (0.3227,0.3075) (0.3246,0.2785) (0.3242,0.1948) (0.3224,0.1112) (0.3201,0.0017) (0.3195,-0.0434) (0.3100,-0.0434)} -- cycle;
\addplot[fid] coordinates {(0.3175,-0.5) (0.3175,1.5)};
\addplot[fid] coordinates {(0.27,0.2) (0.41,0.2)};
\end{axis}

%% (4,3) As - Mnu
\begin{axis}[tri, at={(297.4pt,46.4pt)}, xmin=0.7308, xmax=1.498, ymin=0, ymax=1,
  xtick={1.0,1.2,1.4}, xticklabels={1.0,1.2,1.4}, ytick={0.2,0.4,0.6,0.8}]
\addplot[g2] coordinates {(0.8297,-0.0434) (0.8395,0.0017) (0.8786,0.2592) (0.9129,0.4846) (0.9423,0.7421) (0.9716,0.9996) (0.9667,1.0383) (1.2212,1.0383) (1.2236,0.9996) (1.2310,0.8065) (1.2320,0.6133) (1.2261,0.4202) (1.2090,0.2592) (1.1869,0.1305) (1.1576,0.0017) (1.1478,-0.0434) (0.8297,-0.0434)} -- cycle;
\addplot[g1] coordinates {(0.8850,-0.0434) (0.8933,0.0017) (0.9129,0.1305) (0.9423,0.2914) (0.9765,0.4846) (1.0059,0.6455) (1.0352,0.8065) (1.0695,0.9481) (1.0920,0.9650) (1.1200,0.9030) (1.1390,0.7743) (1.1490,0.6455) (1.1495,0.5167) (1.1404,0.3558) (1.1233,0.2270) (1.1037,0.0983) (1.0866,0.0017) (1.0820,-0.0434) (0.8850,-0.0434)} -- cycle;
\addplot[k2] coordinates {(0.7955,-0.0600) (0.8052,0.0017) (0.8395,0.1948) (0.8737,0.4202) (0.9031,0.6455) (0.9276,0.8065) (0.9520,0.9159) (0.9765,0.9803) (1.0108,1.0254) (1.0499,0.9996) (1.0842,0.9610) (1.1184,0.8708) (1.1380,0.7421) (1.1468,0.5811) (1.1453,0.4202) (1.1356,0.2592) (1.1135,0.1305) (1.0891,0.0017) (1.0817,-0.0600) (0.7955,-0.0600) (nan,nan)
 (0.8420,-0.0434) (0.8493,0.0017) (0.8640,0.0983) (0.8884,0.2270) (0.9178,0.3880) (0.9520,0.5489) (0.9863,0.6906) (1.0206,0.7357) (1.0499,0.6906) (1.0744,0.5811) (1.0817,0.4202) (1.0744,0.2592) (1.0646,0.1305) (1.0499,0.0017) (1.0460,-0.0434) (0.8420,-0.0434)};
\addplot[k1] coordinates {(0.8420,-0.0434) (0.8493,0.0017) (0.8640,0.0983) (0.8884,0.2270) (0.9178,0.3880) (0.9520,0.5489) (0.9863,0.6906) (1.0206,0.7357) (1.0499,0.6906) (1.0744,0.5811) (1.0817,0.4202) (1.0744,0.2592) (1.0646,0.1305) (1.0499,0.0017) (1.0460,-0.0434) (0.8420,-0.0434)} -- cycle;
\addplot[r2] coordinates {(0.9276,-0.0600) (0.9276,0.0017) (0.9300,0.0983) (0.9374,0.1948) (0.9520,0.3043) (0.9814,0.3816) (1.0230,0.4170) (1.0548,0.3816) (1.0695,0.2914) (1.0719,0.1948) (1.0646,0.0983) (1.0524,0.0017) (1.0500,-0.0600) (0.9276,-0.0600) (nan,nan)
 (0.9640,-0.0434) (0.9640,0.0017) (0.9640,0.0983) (0.9716,0.1820) (0.9888,0.2592) (1.0157,0.3060) (1.0401,0.2592) (1.0450,0.1820) (1.0440,0.0983) (1.0352,0.0017) (1.0330,-0.0434) (0.9640,-0.0434)};
\addplot[r1] coordinates {(0.9640,-0.0434) (0.9640,0.0017) (0.9640,0.0983) (0.9716,0.1820) (0.9888,0.2592) (1.0157,0.3060) (1.0401,0.2592) (1.0450,0.1820) (1.0440,0.0983) (1.0352,0.0017) (1.0330,-0.0434) (0.9640,-0.0434)} -- cycle;
\addplot[b2] coordinates {(0.9300,-0.0600) (0.9300,0.0017) (0.9300,0.0983) (0.9349,0.1948) (0.9471,0.2979) (0.9765,0.3687) (1.0108,0.4041) (1.0426,0.3751) (1.0573,0.2914) (1.0607,0.1948) (1.0548,0.0983) (1.0401,0.0017) (1.0380,-0.0600) (0.9300,-0.0600) (nan,nan)
 (0.9545,-0.0434) (0.9545,0.0017) (0.9545,0.0983) (0.9618,0.1820) (0.9814,0.2592) (1.0083,0.3043) (1.0303,0.2592) (1.0362,0.1820) (1.0352,0.0983) (1.0254,0.0017) (1.0240,-0.0434) (0.9545,-0.0434)};
\addplot[b1] coordinates {(0.9545,-0.0434) (0.9545,0.0017) (0.9545,0.0983) (0.9618,0.1820) (0.9814,0.2592) (1.0083,0.3043) (1.0303,0.2592) (1.0362,0.1820) (1.0352,0.0983) (1.0254,0.0017) (1.0240,-0.0434) (0.9545,-0.0434)} -- cycle;
\addplot[fid] coordinates {(1.0,-0.5) (1.0,1.5)};
\addplot[fid] coordinates {(0.6,0.2) (1.6,0.2)};
\end{axis}

%% (4,4) Mnu diagonal
\begin{axis}[diag, at={(413.0pt,46.4pt)}, xmin=0, xmax=1.0, xtick={0.2,0.5,0.8}, xticklabels={0.2,0.5,0.8}]
\addplot[lg] coordinates {(0,0.971) (0.0319,0.968) (0.0638,0.967) (0.0957,0.973) (0.1276,0.983) (0.1658,0.994) (0.2041,0.999) (0.2232,1.0) (0.2551,0.994) (0.2870,0.976) (0.3189,0.948) (0.3571,0.905) (0.3954,0.859) (0.4337,0.817) (0.4719,0.778) (0.5038,0.749) (0.5612,0.707) (0.6122,0.675) (0.6760,0.640) (0.7398,0.597) (0.8036,0.544) (0.8610,0.505) (0.9056,0.476) (0.9503,0.445) (0.9758,0.420) (1.0,0.391)};
\addplot[lk] coordinates {(0,1.0) (0.0383,0.987) (0.0765,0.973) (0.1148,0.962) (0.1531,0.961) (0.1849,0.969) (0.2105,0.978) (0.2423,0.987) (0.2679,0.986) (0.2934,0.973) (0.3189,0.948) (0.3571,0.902) (0.3954,0.845) (0.4209,0.810) (0.4592,0.767) (0.5038,0.728) (0.5485,0.689) (0.5995,0.625) (0.6633,0.533) (0.7270,0.427) (0.8036,0.306) (0.8673,0.221) (0.9184,0.164) (0.9566,0.129) (1.0,0.094)};
\addplot[lr] coordinates {(0,0.562) (0.0255,0.675) (0.0510,0.788) (0.0765,0.888) (0.1020,0.966) (0.1276,0.994) (0.1499,1.0) (0.1690,0.994) (0.1913,0.944) (0.2168,0.845) (0.2423,0.725) (0.2679,0.576) (0.2934,0.427) (0.3189,0.299) (0.3444,0.207) (0.3699,0.136) (0.4018,0.079) (0.4337,0.044) (0.4719,0.021) (0.5230,0.009) (0.5867,0.003) (0.6378,0.001) (1.0,0)};
\addplot[lb] coordinates {(0,0.491) (0.0255,0.590) (0.0510,0.725) (0.0765,0.852) (0.1020,0.951) (0.1276,0.990) (0.1531,1.0) (0.1754,0.990) (0.1977,0.937) (0.2232,0.838) (0.2487,0.718) (0.2742,0.569) (0.2997,0.420) (0.3253,0.292) (0.3508,0.200) (0.3763,0.129) (0.4082,0.072) (0.4401,0.037) (0.4719,0.016) (0.5038,0.005) (0.5421,0.001) (1.0,0)};
\addplot[fid] coordinates {(0.2,-1) (0.2,2)};
\end{axis}

%% axis labels
\begin{scope}[every node/.style={font=\fontsize{20.5}{24}\selectfont, inner sep=0pt, anchor=base}]
\node at (123.5pt,5.4pt) {\textit{h}};
\node at (239.4pt,5.4pt) {Ω\textsubscript{\textit{m}}};
\node at (355.2pt,5.4pt) {\textit{A}\textsubscript{\textit{s}}/\textit{A}\rlap{\textsuperscript{fid}}\textsubscript{\textit{s}}\hphantom{\textsuperscript{fid}}};
\node at (470.8pt,5.4pt) {\textit{M}\textsubscript{\textit{ν}}};
\node[rotate=90] at (22.6pt,343.6pt) {Ω\textsubscript{\textit{m}}};
\node[rotate=90] at (29.6pt,224.7pt) {\textit{A}\textsubscript{\textit{s}}/\textit{A}\rlap{\textsuperscript{fid}}\textsubscript{\textit{s}}\hphantom{\textsuperscript{fid}}};
\node[rotate=90] at (31pt,105.8pt) {\textit{M}\textsubscript{\textit{ν}}};
\end{scope}

%% legend
\draw[rounded corners=7pt, draw=legE, line width=0.6pt, fill=white, fill opacity=0.85] (264.2pt,393.4pt) rectangle (540pt,521.4pt);
\fill[gD] (272.0pt,497.0pt) rectangle (314.8pt,512.4pt);
\fill[legK] (272.0pt,466.6pt) rectangle (314.8pt,482.0pt);
\fill[legR] (272.0pt,436.0pt) rectangle (314.8pt,451.6pt);
\fill[legB] (272.0pt,405.4pt) rectangle (314.8pt,421.0pt);
\begin{scope}[every node/.style={font=\fontsize{21}{24}\selectfont, inner sep=0pt, anchor=base west}]
\node at (331.1pt,497.7pt) {\textit{P}\textsubscript{\textit{ℓ}}, w/o Planck};
\node at (331.1pt,467.3pt) {\textit{P}\textsubscript{\textit{ℓ}}\,+\,\textit{B}\textsubscript{\textit{ℓ}}, w/o Planck};
\node at (331.1pt,436.8pt) {\textit{P}\textsubscript{\textit{ℓ}}, w Planck};
\node at (331.1pt,406.2pt) {\textit{P}\textsubscript{\textit{ℓ}}\,+\,\textit{B}\textsubscript{\textit{ℓ}}, w Planck};
\end{scope}

%% PBJ box
\fill[orng, rounded corners=8pt] (339pt,326.4pt) rectangle (545pt,387.4pt);
\node[anchor=base, inner sep=0pt, text=white] at (434.6pt,361.0pt) {\lib\bfseries\fontsize{23}{28}\selectfont with {\fontsize{27}{28}\selectfont\ttfamily\mdseries\scalebox{1.1}[1]{PBJ}} code};
\node[anchor=base, inner sep=0pt, text=refblue] at (434.9pt,338.8pt) {\lib\bfseries\fontsize{15.4}{18}\selectfont [Moretti,Oddo,...]};
\end{tikzpicture}
\end{document}
